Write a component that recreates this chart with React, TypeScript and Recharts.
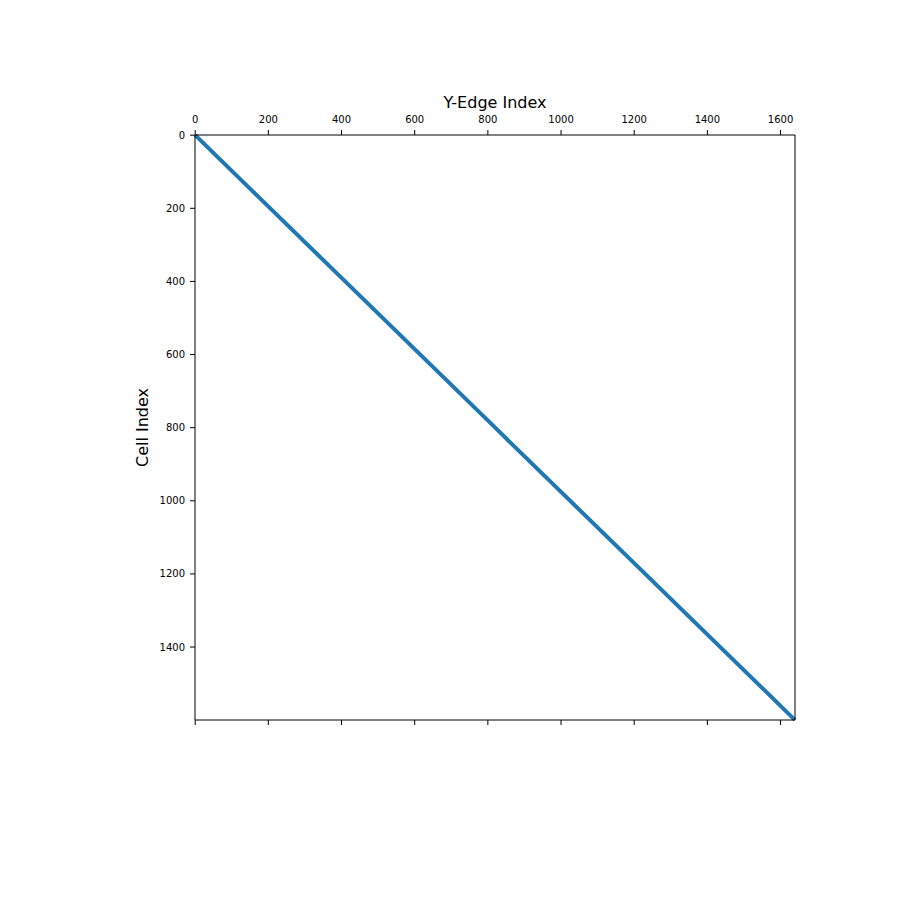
import { LineChart, Line, XAxis, YAxis } from "recharts";

// spy pattern of the cell -> y-edge incidence matrix (1600 cells x 1640 y-edges)
const edgeIndex = [0, 410, 820, 1230, 1639];
const cellIndex = [0, 400, 800, 1200, 1599];

const xTicks = [0, 200, 400, 600, 800, 1000, 1200, 1400, 1600];
const yTicks = [0, 200, 400, 600, 800, 1000, 1200, 1400];

const data = edgeIndex.map((x, i) => ({ x, y: cellIndex[i] }));

const font = "'DejaVu Sans', sans-serif";

const TopTitle = (props: any) => {
  const vb = props.viewBox;
  return (
    <text x={vb.x + vb.width / 2} y={vb.y + 3} textAnchor="middle" fontSize={16} fontFamily={font} fill="#000">
      Y-Edge Index
    </text>
  );
};

const LeftTitle = (props: any) => {
  const vb = props.viewBox;
  const cx = vb.x + 7;
  const cy = vb.y + vb.height / 2;
  return (
    <text x={cx} y={cy} transform={`rotate(-90 ${cx} ${cy})`} textAnchor="middle" dominantBaseline="central" fontSize={16} fontFamily={font} fill="#000">
      Cell Index
    </text>
  );
};

export default function App() {
  const tickStyle = { fill: "#000", fontSize: 10, fontFamily: font };
  return (
    <div style={{ position: "absolute", left: 0, top: 0, background: "#fff" }}>
      <LineChart width={900} height={900} data={data} margin={{ top: 105, right: 100, bottom: 150, left: 135 }}>
        <XAxis
          xAxisId="top"
          orientation="top"
          type="number"
          dataKey="x"
          domain={[-0.5, 1639.5]}
          ticks={xTicks}
          height={30}
          tickSize={5}
          tickMargin={7}
          stroke="#000"
          tick={tickStyle}
          label={<TopTitle />}
        />
        <XAxis
          xAxisId="bottom"
          orientation="bottom"
          type="number"
          dataKey="x"
          domain={[-0.5, 1639.5]}
          ticks={xTicks}
          height={30}
          tickSize={5}
          stroke="#000"
          tickFormatter={() => ""}
        />
        <YAxis
          yAxisId="left"
          type="number"
          dataKey="y"
          domain={[-0.5, 1599.5]}
          reversed
          ticks={yTicks}
          width={60}
          tickSize={5}
          tickMargin={5}
          stroke="#000"
          tick={tickStyle}
          label={<LeftTitle />}
        />
        <YAxis yAxisId="right" orientation="right" width={5} tick={false} tickLine={false} stroke="#000" />
        <Line
          xAxisId="top"
          yAxisId="left"
          type="linear"
          dataKey="y"
          stroke="#1f77b4"
          strokeWidth={4}
          dot={false}
          isAnimationActive={false}
        />
      </LineChart>
    </div>
  );
}
